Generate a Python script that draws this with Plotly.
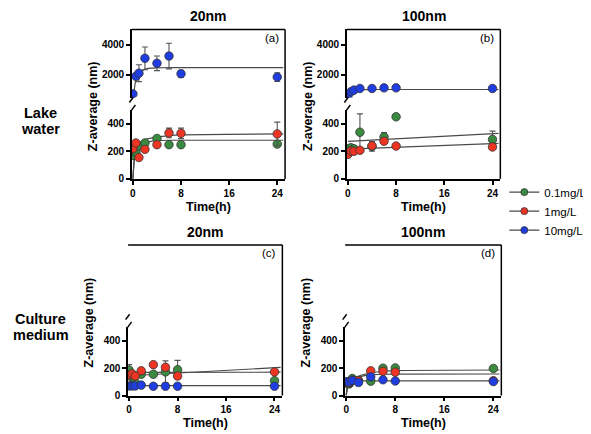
import plotly.graph_objects as go

W, H = 591, 434
FONT = "Liberation Sans"

# ---------------- data ----------------
times = [0, 0.5, 1, 2, 4, 6, 8, 24]
fit_t = [0, 0.25, 0.5, 1, 2, 3, 4, 6, 8, 25]
line_t = [0, 25]

series_names = ["0.1mg/L", "1mg/L", "10mg/L"]
colors = ["#3a8a3f", "#ee3524", "#1f3de0"]

# (a) 20nm, lake water
a_green = [170, 195, 240, 260, 293, 248, 248, 252]
a_green_err = [0, 0, 0, 0, 12, 0, 0, 0]
a_red = [218, 260, 155, 214, 248, 333, 330, 326]
a_red_err = [0, 0, 0, 0, 0, 35, 38, 85]
a_blue = [740, 1900, 2110, 3090, 2760, 3240, 2070, 1850]
a_blue_err = [0, 0, 560, 750, 480, 850, 230, 290]
a_green_fit = [0, 150, 205, 240, 262, 272, 277, 280, 280, 280]
a_red_fit = [0, 150, 215, 250, 285, 296, 302, 313, 319, 326]
a_blue_fit = [0, 1100, 1650, 2100, 2380, 2440, 2460, 2470, 2470, 2470]

# (b) 100nm, lake water
b_green = [218, 226, 218, 338, 235, 304, 450, 286]
b_green_err = [0, 0, 0, 133, 35, 32, 15, 60]
b_red = [178, 202, 200, 207, 240, 273, 238, 231]
b_red_err = [0, 0, 0, 0, 15, 10, 0, 15]
b_blue = [520, 880, 990, 1100, 1100, 1140, 1140, 1100]
b_blue_err = [0, 0, 0, 0, 0, 0, 0, 0]
b_green_line = [272, 330]
b_red_line = [216, 257]
b_blue_fit = [300, 700, 850, 960, 1015, 1025, 1030, 1030, 1030, 1030]

# (c) 20nm, culture medium
c_green = [185, 130, 95, 155, 155, 172, 188, 108]
c_green_err = [40, 0, 0, 20, 0, 80, 68, 0]
c_red = [150, 158, 142, 180, 225, 206, 142, 172]
c_red_err = [30, 0, 20, 15, 0, 20, 15, 0]
c_blue = [70, 70, 70, 76, 68, 68, 68, 68]
c_blue_err = [0, 0, 0, 0, 0, 0, 0, 0]
c_green_line = [168, 170]
c_red_line = [144, 205]
c_blue_line = [72, 72]

# (d) 100nm, culture medium
d_green = [90, 85, 124, 110, 105, 199, 201, 197]
d_green_err = [0, 0, 0, 0, 0, 0, 0, 0]
d_red = [100, 92, 112, 108, 180, 176, 170, 108]
d_red_err = [0, 0, 0, 0, 0, 0, 0, 0]
d_blue = [100, 98, 110, 95, 136, 115, 106, 102]
d_blue_err = [0, 0, 0, 0, 0, 0, 0, 0]
d_green_fit = [0, 75, 95, 115, 140, 155, 165, 177, 182, 186]
d_red_fit = [0, 70, 95, 115, 135, 145, 150, 155, 156, 157]
d_blue_fit = [0, 80, 95, 103, 106, 107, 107, 107, 107, 107]

x_ticks = [0, 8, 16, 24]
y_low_ticks = [0, 200, 400]
y_up_ticks = [2000, 4000]
titles = ["20nm", "100nm", "20nm", "100nm"]
letters = ["(a)", "(b)", "(c)", "(d)"]
row_labels = [["Lake", "water"], ["Culture", "medium"]]

# --------------- layout geometry (pixels) ---------------
panels_px = [
    dict(x=(122.3, 276.0), up=(21.7, 90.8), lo=(103.3, 173.3)),
    dict(x=(338.0, 492.0), up=(21.7, 90.8), lo=(103.3, 173.3)),
    dict(x=(118.5, 273.3), up=(240.2, 311.0), lo=(323.3, 393.0)),
    dict(x=(336.3, 493.0), up=(240.2, 311.0), lo=(323.3, 393.0)),
]


def px(p):
    return p / W


def py(p):
    return 1 - p / H


fig = go.Figure()

axis_font = dict(family=FONT, size=10, color="black", weight="bold")
common_axis = dict(showline=True, linewidth=1.5, linecolor="black", ticks="outside",
                   ticklen=4, tickwidth=1.5, tickcolor="black", showgrid=False,
                   zeroline=False, tickfont=axis_font, fixedrange=True)

layout_axes = {}
for i, g in enumerate(panels_px):
    n = i + 1
    xname = "xaxis" if n == 1 else f"xaxis{n}"
    ylo = "yaxis" if n == 1 else f"yaxis{n}"
    yup = f"yaxis{n + 4}"
    ylo_ref = "y" if n == 1 else f"y{n}"
    x_ref = "x" if n == 1 else f"x{n}"
    layout_axes[xname] = dict(common_axis, domain=[px(g["x"][0]), px(g["x"][1])],
                              range=[-0.17, 25.3], tickvals=x_ticks, anchor=ylo_ref)
    layout_axes[ylo] = dict(common_axis, domain=[py(g["lo"][1]), py(g["lo"][0])],
                            range=[0, 500], tickvals=y_low_ticks, anchor=x_ref)
    layout_axes[yup] = dict(common_axis, domain=[py(g["up"][1]), py(g["up"][0])],
                            range=[500, 5000], tickvals=y_up_ticks, anchor=x_ref)

fig.update_layout(**layout_axes)

panel_data = [
    dict(pts=[(a_green, a_green_err, "lo"), (a_red, a_red_err, "lo"), (a_blue, a_blue_err, "up")],
         fits=[(fit_t, a_green_fit, "lo"), (fit_t, a_red_fit, "lo"), (fit_t, a_blue_fit, "up")]),
    dict(pts=[(b_green, b_green_err, "lo"), (b_red, b_red_err, "lo"), (b_blue, b_blue_err, "up")],
         fits=[(line_t, b_green_line, "lo"), (line_t, b_red_line, "lo"), (fit_t, b_blue_fit, "up")]),
    dict(pts=[(c_green, c_green_err, "lo"), (c_red, c_red_err, "lo"), (c_blue, c_blue_err, "lo")],
         fits=[(line_t, c_green_line, "lo"), (line_t, c_red_line, "lo"), (line_t, c_blue_line, "lo")]),
    dict(pts=[(d_green, d_green_err, "lo"), (d_red, d_red_err, "lo"), (d_blue, d_blue_err, "lo")],
         fits=[(fit_t, d_green_fit, "lo"), (fit_t, d_red_fit, "lo"), (fit_t, d_blue_fit, "lo")]),
]

LINE_COL = "#4a4a4a"
for i, pdict in enumerate(panel_data):
    n = i + 1
    x_ref = "x" if n == 1 else f"x{n}"
    refs = {"lo": "y" if n == 1 else f"y{n}", "up": f"y{n + 4}"}
    for ft, fv, seg in pdict["fits"]:
        fig.add_trace(go.Scatter(x=ft, y=fv, mode="lines", xaxis=x_ref, yaxis=refs[seg],
                                 line=dict(color=LINE_COL, width=1.2, shape="spline", smoothing=0.6),
                                 showlegend=False, hoverinfo="skip"))
    for k, (vals, errs, seg) in enumerate(pdict["pts"]):
        fig.add_trace(go.Scatter(x=times, y=vals, mode="markers", xaxis=x_ref, yaxis=refs[seg],
                                 marker=dict(size=8.5, color=colors[k], line=dict(color="#333333", width=0.8)),
                                 error_y=dict(type="data", array=errs, visible=True, color="#555555",
                                              thickness=1.1, width=3),
                                 showlegend=False, name=series_names[k]))

# legend entries
for k in range(3):
    fig.add_trace(go.Scatter(x=[None], y=[None], mode="lines+markers", name=series_names[k],
                             line=dict(color=LINE_COL, width=1.2),
                             marker=dict(size=7, color=colors[k], line=dict(color="#333333", width=0.8)),
                             showlegend=True, xaxis="x", yaxis="y"))

shapes = []
annotations = []
for i, g in enumerate(panels_px):
    xl, xr = g["x"]
    ut, ub = g["up"]
    lt, lb = g["lo"]
    # frame: top + right
    shapes.append(dict(type="line", xref="paper", yref="paper", x0=px(xl), x1=px(xr),
                       y0=py(ut), y1=py(ut), line=dict(color="black", width=1.5)))
    shapes.append(dict(type="line", xref="paper", yref="paper", x0=px(xr), x1=px(xr),
                       y0=py(ut), y1=py(lb), line=dict(color="black", width=1.5)))
    # axis break marks
    shapes.append(dict(type="line", xref="paper", yref="paper", x0=px(xl - 2.5), x1=px(xl + 1.5),
                       y0=py(ub + 5), y1=py(ub - 0.5), line=dict(color="black", width=1.5)))
    shapes.append(dict(type="line", xref="paper", yref="paper", x0=px(xl - 0.5), x1=px(xl + 3.5),
                       y0=py(lt + 0.5), y1=py(lt - 5), line=dict(color="black", width=1.5)))
    cx = (xl + xr) / 2
    annotations.append(dict(text=titles[i], x=px(cx), y=py(ut - 13.5), xref="paper", yref="paper",
                            showarrow=False, xanchor="center", yanchor="middle",
                            font=dict(family=FONT, size=14, color="black", weight="bold")))
    annotations.append(dict(text=letters[i], x=px(xr - 13), y=py(ut + 8.5), xref="paper", yref="paper",
                            showarrow=False, xanchor="center", yanchor="middle",
                            font=dict(family=FONT, size=11.5, color="black")))
    annotations.append(dict(text="Time(h)", x=px(cx), y=py(lb + 28), xref="paper", yref="paper",
                            showarrow=False, xanchor="center", yanchor="middle",
                            font=dict(family=FONT, size=12.5, color="black", weight="bold")))
    annotations.append(dict(text="Z-average (nm)", x=px(xl - 39), y=py((ut + lb) / 2 + 2),
                            xref="paper", yref="paper", textangle=-90,
                            showarrow=False, xanchor="center", yanchor="middle",
                            font=dict(family=FONT, size=12.5, color="black", weight="bold")))

row_y = [(106, 123), (315, 332)]
for r in range(2):
    for j in range(2):
        annotations.append(dict(text=row_labels[r][j], x=px(31), y=py(row_y[r][j]),
                                xref="paper", yref="paper", showarrow=False,
                                xanchor="center", yanchor="middle",
                                font=dict(family=FONT, size=14.5, color="black", weight="bold")))

fig.update_layout(
    width=W, height=H,
    margin=dict(l=0, r=0, t=0, b=0),
    paper_bgcolor="white", plot_bgcolor="white",
    shapes=shapes, annotations=annotations,
    showlegend=True,
    legend=dict(x=px(496), y=py(172), xanchor="left", yanchor="top",
                font=dict(family=FONT, size=11.5, color="black"),
                bgcolor="rgba(0,0,0,0)", tracegroupgap=0),
    font=dict(family=FONT),
)

fig.write_html("out.html")
